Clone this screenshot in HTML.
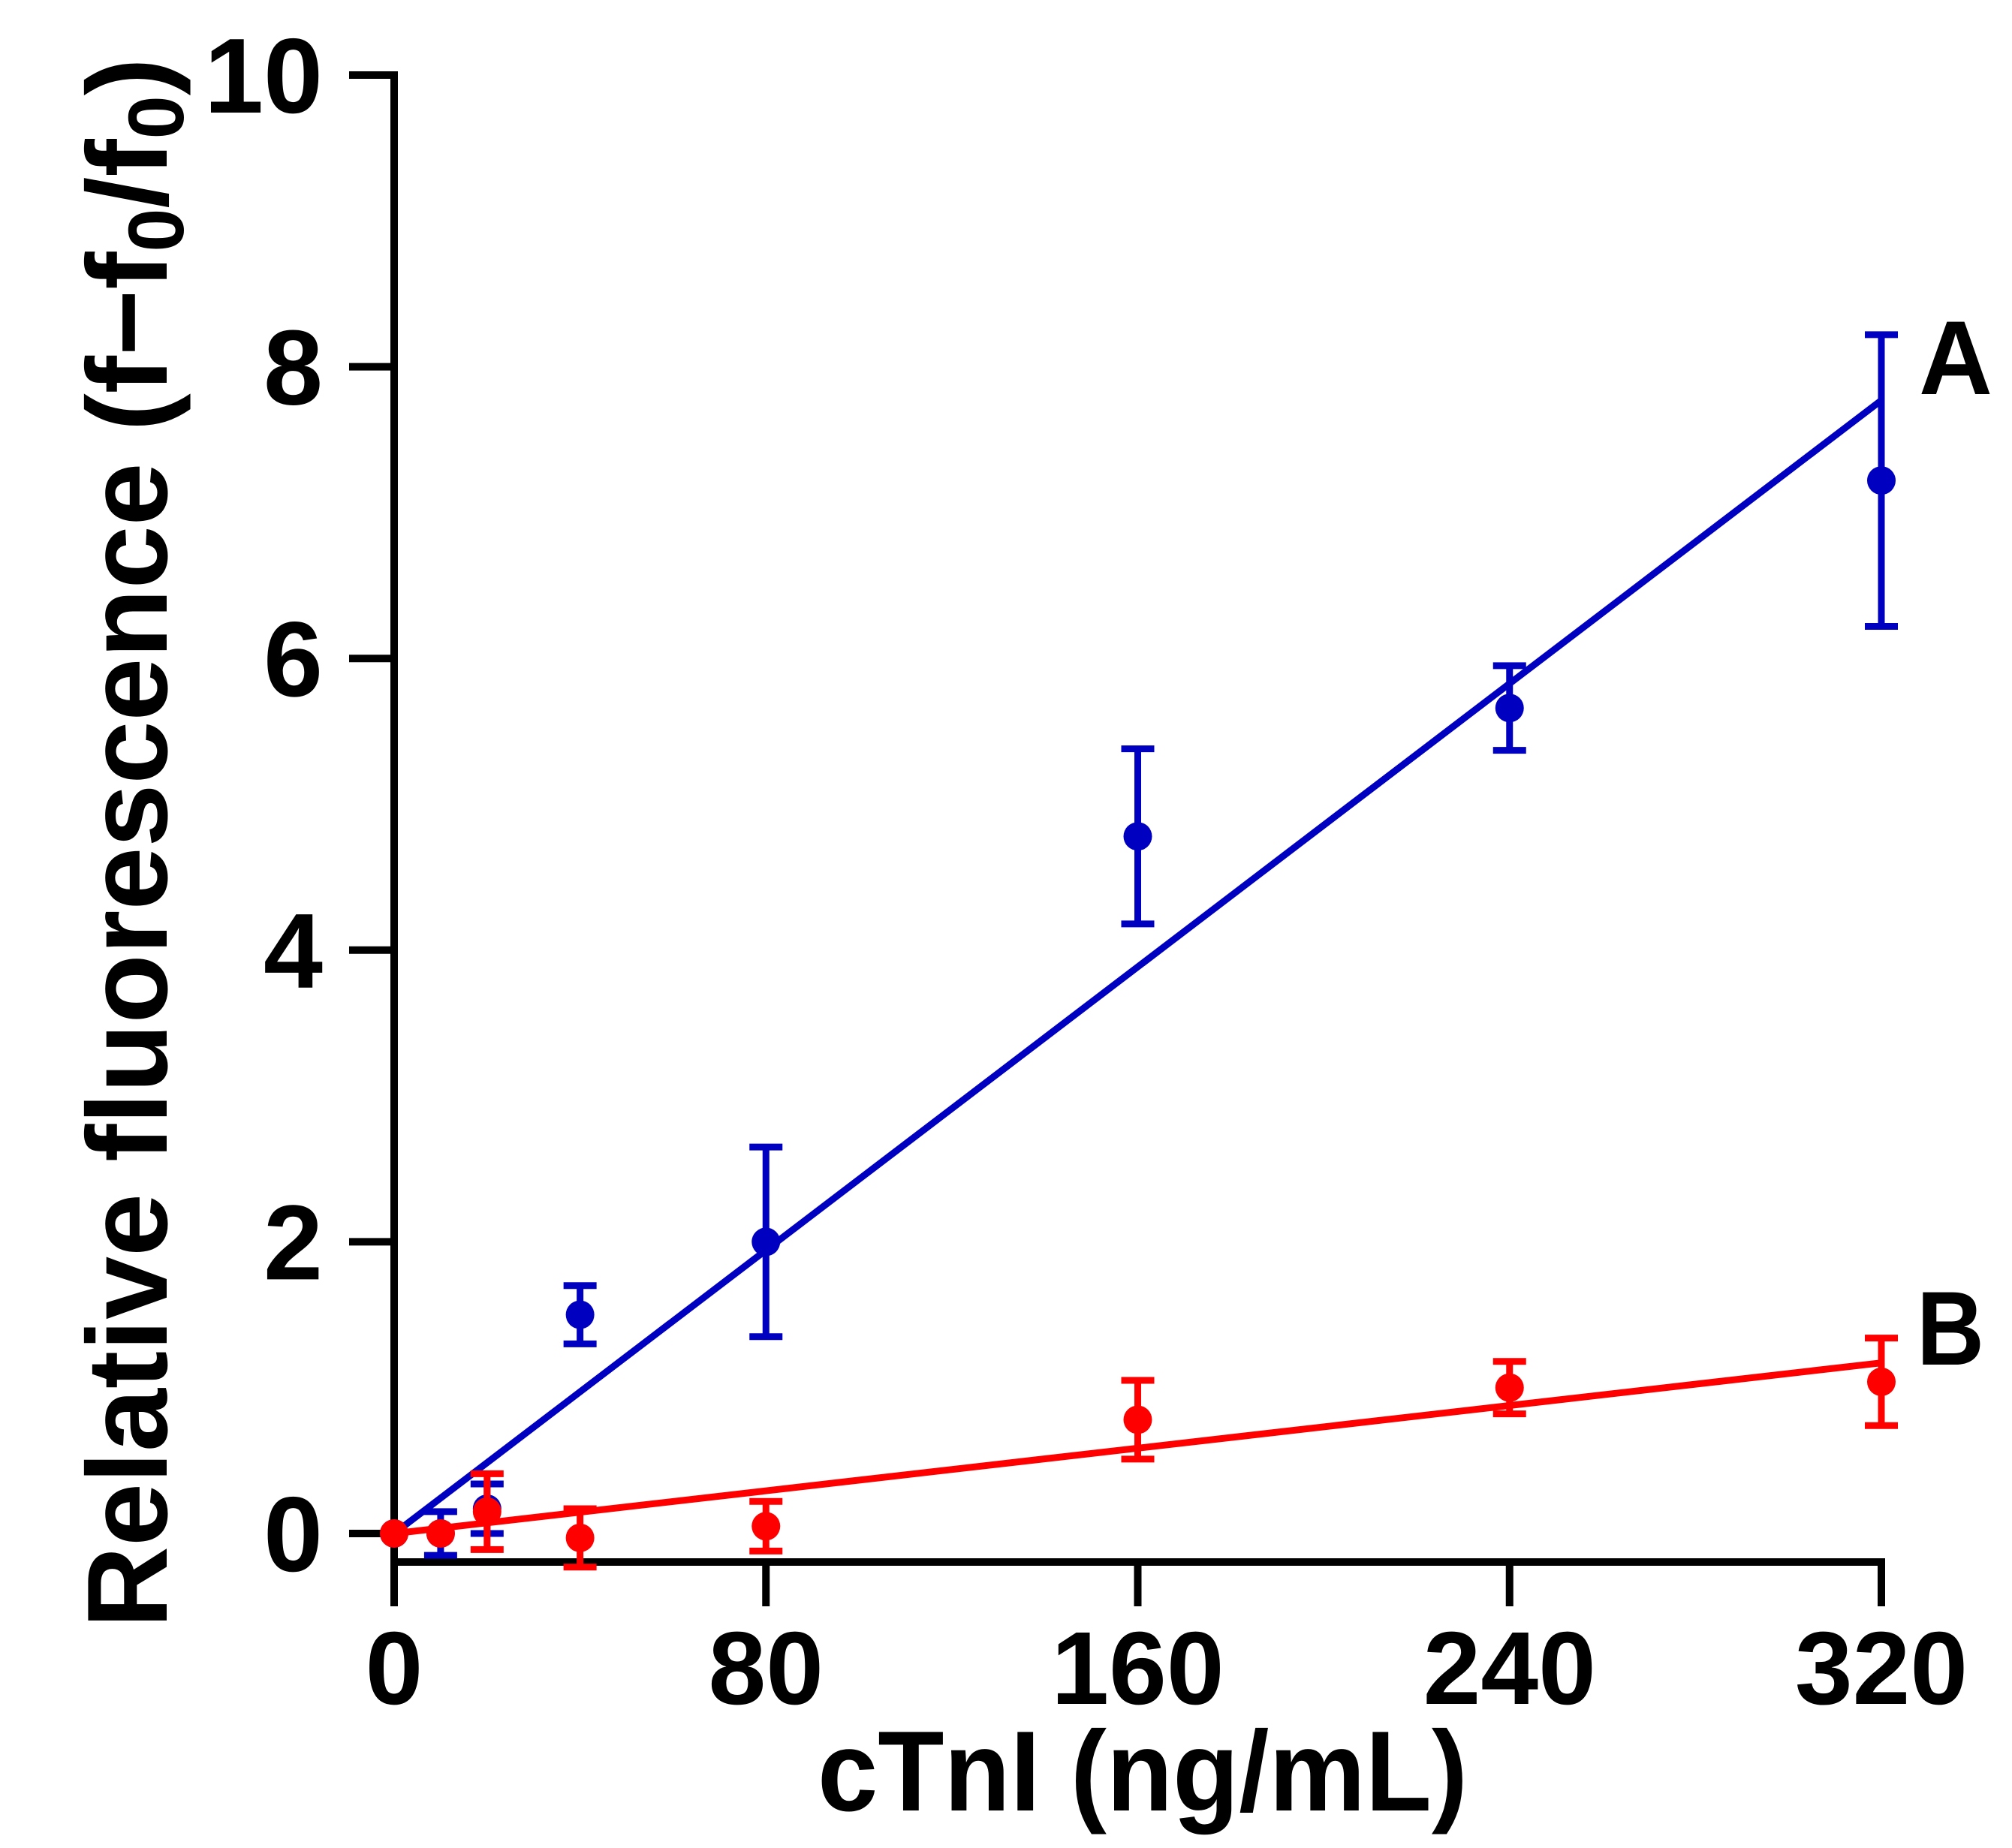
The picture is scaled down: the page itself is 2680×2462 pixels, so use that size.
<!DOCTYPE html>
<html><head><meta charset="utf-8"><style>
html,body{margin:0;padding:0;background:#fff;}
svg{display:block;font-family:"Liberation Sans",Arial,sans-serif;font-weight:bold;}
</style></head><body>
<svg id="chart" width="2680" height="2462" viewBox="0 0 2680 2462" xmlns="http://www.w3.org/2000/svg">
<g id="axes"></g>
<g id="plot"></g>
<text x="1522" y="2412" font-size="152" text-anchor="middle" textLength="866" lengthAdjust="spacingAndGlyphs">cTnI (ng/mL)</text>
<text transform="translate(222,2169) rotate(-90)" x="0" y="0" font-size="152" textLength="2092" lengthAdjust="spacingAndGlyphs">Relative fluorescence (f−f<tspan font-size="105" dy="22">0</tspan><tspan dy="-22">/f</tspan><tspan font-size="105" dy="22">0</tspan><tspan dy="-22">)</tspan></text>
<text x="2556" y="525" font-size="140" textLength="98" lengthAdjust="spacingAndGlyphs">A</text>
<text x="2553" y="1818" font-size="140" textLength="90" lengthAdjust="spacingAndGlyphs">B</text>
</svg>
<script>
const xTicks = [0, 80, 160, 240, 320];
const yTicks = [0, 2, 4, 6, 8, 10];
const conc = [0, 10, 20, 40, 80, 160, 240, 320];
const seriesA = [0, 0, 0.17, 1.5, 2.0, 4.78, 5.66, 7.22];
const errA = [0, 0.15, 0.17, 0.2, 0.65, 0.6, 0.29, 1.0];
const seriesB = [0, 0, 0.15, -0.03, 0.05, 0.78, 1.0, 1.04];
const errB = [0, 0, 0.26, 0.2, 0.17, 0.27, 0.18, 0.3];
const fitA = [0, 7.77];
const fitB = [0, 1.17];
const fitX = [0, 320];

const NS = 'http://www.w3.org/2000/svg';
const X0 = 525, X1 = 2506, Y0 = 2043, Y10 = 100;
const sx = v => X0 + (v / 320) * (X1 - X0);
const sy = v => Y0 - (v / 10) * (Y0 - Y10);
function mk(tag, attrs, parent) {
  const e = document.createElementNS(NS, tag);
  for (const k in attrs) e.setAttribute(k, attrs[k]);
  parent.appendChild(e);
  return e;
}
const axes = document.getElementById('axes');
const plot = document.getElementById('plot');
const AX_Y = 2081;
let el = mk('line', {x1: X0, y1: Y10 - 5, x2: X0, y2: AX_Y + 5, stroke: '#000', 'stroke-width': 10}, axes);


el = mk('line', {x1: X0 - 5, y1: AX_Y, x2: X1 + 5, y2: AX_Y, stroke: '#000', 'stroke-width': 10}, axes);


yTicks.forEach(t => {
  const y = sy(t);
  const l = mk('line', {x1: 465, y1: y, x2: X0, y2: y, stroke: '#000', 'stroke-width': 10}, axes);
  
  
  const tx = mk('text', {x: 430, y: y + 50, 'font-size': 142, 'text-anchor': 'end'}, axes);
  tx.textContent = t;
  
  
});
xTicks.forEach(t => {
  const x = sx(t);
  const l = mk('line', {x1: x, y1: AX_Y, x2: x, y2: 2140, stroke: '#000', 'stroke-width': 10}, axes);
  
  
  const tx = mk('text', {x: x, y: 2270, 'font-size': 138, 'text-anchor': 'middle'}, axes);
  tx.textContent = t;
  
  
});
function drawSeries(vals, errs, fit, color, name) {
  const f = mk('line', {x1: sx(fitX[0]), y1: sy(fit[0]), x2: sx(fitX[1]), y2: sy(fit[1]), stroke: color, 'stroke-width': 9}, plot);
  
  
  conc.forEach((c, i) => {
    const x = sx(c), v = vals[i], e = errs[i];
    if (e > 0) {
      const g = mk('g', {stroke: color, 'stroke-width': 9}, plot);
      
      
      mk('line', {x1: x, y1: sy(v + e), x2: x, y2: sy(v - e)}, g);
      mk('line', {x1: x - 22, y1: sy(v + e), x2: x + 22, y2: sy(v + e)}, g);
      mk('line', {x1: x - 22, y1: sy(v - e), x2: x + 22, y2: sy(v - e)}, g);
    }
    const p = mk('circle', {cx: x, cy: sy(v), r: 19, fill: color}, plot);
    
    
  });
}
drawSeries(seriesA, errA, fitA, '#0000c0', 'series-a');
drawSeries(seriesB, errB, fitB, '#ff0000', 'series-b');
</script>
</body></html>
